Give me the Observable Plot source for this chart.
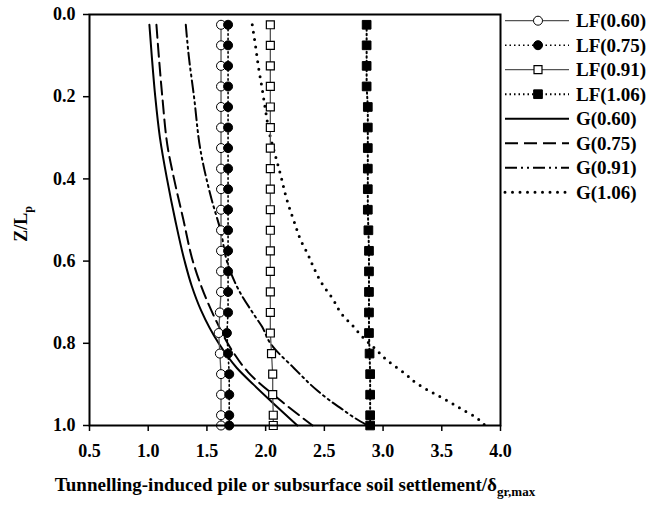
<!DOCTYPE html>
<html>
<head>
<meta charset="utf-8">
<script src="https://cdn.jsdelivr.net/npm/d3@7"></script>
<script src="https://cdn.jsdelivr.net/npm/@observablehq/plot@0.6"></script>
<style>
  body { margin: 0; background: #fff; }
  svg { font-family: "Liberation Serif", "Times New Roman", serif; }
</style>
</head>
<body>
<div id="chart"></div>
<script>
// ---------- data ----------
const xTicks = [0.5, 1.0, 1.5, 2.0, 2.5, 3.0, 3.5, 4.0];
const yTicks = [0.0, 0.2, 0.4, 0.6, 0.8, 1.0];

// LF series (marker depths)
const zLF = [0.025,0.075,0.125,0.175,0.225,0.275,0.325,0.375,0.425,0.475,0.525,0.575,0.625,0.675,0.725,0.775,0.825,0.875,0.925,0.975,1.0];
const lf060 = [1.62,1.62,1.62,1.62,1.62,1.62,1.62,1.62,1.62,1.62,1.62,1.62,1.62,1.62,1.61,1.60,1.61,1.62,1.62,1.62,1.62];
const lf075 = [1.68,1.68,1.68,1.68,1.68,1.68,1.68,1.68,1.68,1.68,1.68,1.68,1.68,1.68,1.68,1.67,1.68,1.69,1.69,1.69,1.69];
const lf091 = [2.04,2.04,2.04,2.04,2.04,2.04,2.04,2.04,2.04,2.04,2.04,2.04,2.04,2.04,2.04,2.04,2.05,2.06,2.06,2.065,2.065];
const lf106 = [2.86,2.86,2.86,2.86,2.87,2.87,2.87,2.87,2.87,2.87,2.875,2.88,2.88,2.88,2.88,2.88,2.885,2.89,2.89,2.89,2.89];

// G curves
const zG060 = [0.025,0.1,0.2,0.3,0.4,0.5,0.6,0.66,0.72,0.8,0.86,0.9,0.95,1.0];
const xG060 = [1.01,1.03,1.06,1.10,1.16,1.23,1.31,1.37,1.45,1.60,1.755,1.895,2.08,2.27];
const zG075 = [0.025,0.1,0.2,0.33,0.4,0.5,0.6,0.66,0.74,0.82,0.87,0.94,1.0];
const xG075 = [1.07,1.09,1.12,1.17,1.22,1.30,1.38,1.45,1.57,1.72,1.85,2.13,2.40];
const zG091 = [0.025,0.1,0.2,0.33,0.45,0.53,0.6,0.67,0.73,0.76,0.8,0.86,0.915,0.94,0.96,0.98,1.0];
const xG091 = [1.32,1.345,1.39,1.445,1.54,1.62,1.67,1.77,1.90,1.97,2.04,2.24,2.44,2.55,2.65,2.75,2.87];
const zG106 = [0.025,0.077,0.13,0.18,0.235,0.29,0.33,0.39,0.45,0.51,0.55,0.58,0.62,0.655,0.69,0.73,0.76,0.78,0.81,0.845,0.87,0.90,0.92,0.94,0.96,0.98,1.0];
const xG106 = [1.886,1.914,1.94,1.97,2.0,2.033,2.07,2.127,2.18,2.25,2.30,2.354,2.416,2.48,2.567,2.652,2.75,2.81,2.92,3.05,3.17,3.30,3.42,3.55,3.67,3.79,3.87];

const legendLabels = ["LF(0.60)","LF(0.75)","LF(0.91)","LF(1.06)","G(0.60)","G(0.75)","G(0.91)","G(1.06)"];
const xTitle = "Tunnelling-induced pile or subsurface soil settlement/δ";
const xTitleSub = "gr,max";
const yTitle = "Z/L";
const yTitleSub = "p";

// ---------- build tables ----------
const toRows = (xs, zs) => xs.map((x, i) => ({x, z: zs[i]}));
const LF060 = toRows(lf060, zLF), LF075 = toRows(lf075, zLF), LF091 = toRows(lf091, zLF), LF106 = toRows(lf106, zLF);
const G060 = toRows(xG060, zG060), G075 = toRows(xG075, zG075), G091 = toRows(xG091, zG091), G106 = toRows(xG106, zG106);

// styles
const S = {
  lf060: {stroke: "#555", strokeWidth: 1.3},
  lf075: {stroke: "#000", strokeWidth: 1.6, strokeDasharray: "1.5,3"},
  lf091: {stroke: "#555", strokeWidth: 1.3},
  lf106: {stroke: "#000", strokeWidth: 2, strokeDasharray: "1.5,3"},
  g060: {stroke: "#000", strokeWidth: 2},
  g075: {stroke: "#000", strokeWidth: 2, strokeDasharray: "13,6"},
  g091: {stroke: "#000", strokeWidth: 2, strokeDasharray: "12,4,2,4,2,4"},
  g106: {stroke: "#000", strokeWidth: 3, strokeDasharray: "0,7.5", strokeLinecap: "round"}
};
const M = {
  lf060: {symbol: "circle", r: 4.5, fill: "#fff", stroke: "#000", strokeWidth: 1},
  lf075: {symbol: "circle", r: 4.5, fill: "#000", stroke: "#000", strokeWidth: 1},
  lf091: {symbol: "square", r: 4.5, fill: "#fff", stroke: "#000", strokeWidth: 1.2},
  lf106: {symbol: "square", r: 4.9, fill: "#000", stroke: "#000", strokeWidth: 1}
};

const plot = Plot.plot({
  width: 655,
  height: 506,
  marginLeft: 89,
  marginRight: 155,
  marginTop: 14,
  marginBottom: 81,
  style: {fontFamily: "Liberation Serif", fontSize: "18px", fontWeight: "bold", background: "#fff", color: "#000"},
  x: {domain: [0.5, 4.0]},
  y: {domain: [0, 1], reverse: true},
  marks: [
    Plot.line(G060, {x: "x", y: "z", curve: "monotone-y", ...S.g060}),
    Plot.line(G075, {x: "x", y: "z", curve: "monotone-y", ...S.g075}),
    Plot.line(G091, {x: "x", y: "z", curve: "monotone-y", ...S.g091}),
    Plot.line(G106, {x: "x", y: "z", curve: "monotone-y", ...S.g106}),
    Plot.line(LF060, {x: "x", y: "z", ...S.lf060}),
    Plot.line(LF075, {x: "x", y: "z", ...S.lf075}),
    Plot.line(LF091, {x: "x", y: "z", ...S.lf091}),
    Plot.line(LF106, {x: "x", y: "z", ...S.lf106}),
    Plot.dot(LF060, {x: "x", y: "z", ...M.lf060}),
    Plot.dot(LF075, {x: "x", y: "z", ...M.lf075}),
    Plot.dot(LF091, {x: "x", y: "z", ...M.lf091}),
    Plot.dot(LF106, {x: "x", y: "z", ...M.lf106}),
    Plot.axisX({ticks: xTicks, tickFormat: d3.format(".1f"), tickSize: 6, tickPadding: 13, strokeWidth: 1.5, fontSize: 18, fontWeight: "bold", label: null}),
    Plot.axisY({ticks: yTicks, tickFormat: d3.format(".1f"), tickSize: 6, tickPadding: 8, strokeWidth: 1.5, fontSize: 18, fontWeight: "bold", label: null}),
    Plot.frame({stroke: "#000", strokeWidth: 2})
  ]
});

document.getElementById("chart").append(plot);

// ---------- titles and legend (layout) ----------
const svg = d3.select(plot);
const font = "Liberation Serif, Times New Roman, serif";

const xt = svg.append("text")
  .attr("x", 295).attr("y", 491)
  .attr("text-anchor", "middle")
  .attr("font-family", font).attr("font-weight", "bold").attr("font-size", 19)
  .attr("fill", "#000");
xt.append("tspan").text(xTitle);
xt.append("tspan").attr("dy", 5).attr("font-size", 13).text(xTitleSub);

const yt = svg.append("text")
  .attr("transform", "translate(27,224) rotate(-90)")
  .attr("text-anchor", "middle")
  .attr("font-family", font).attr("font-weight", "bold").attr("font-size", 18)
  .attr("fill", "#000");
yt.append("tspan").text(yTitle);
yt.append("tspan").attr("dy", 5).attr("font-size", 12).text(yTitleSub);

const legendStyles = [S.lf060, S.lf075, S.lf091, S.lf106, S.g060, S.g075, S.g091, S.g106];
const legendMarks = [M.lf060, M.lf075, M.lf091, M.lf106, null, null, null, null];
const lg = svg.append("g").attr("text-anchor", "start");
legendLabels.forEach((lab, i) => {
  const y = 20.7 + i * 24.5;
  const st = legendStyles[i];
  const ln = lg.append("line")
    .attr("x1", 505).attr("x2", 569).attr("y1", y).attr("y2", y)
    .attr("stroke", st.stroke).attr("stroke-width", st.strokeWidth);
  if (st.strokeDasharray) ln.attr("stroke-dasharray", st.strokeDasharray);
  if (st.strokeLinecap) ln.attr("stroke-linecap", st.strokeLinecap);
  const m = legendMarks[i];
  if (m) {
    const sym = m.symbol === "circle" ? d3.symbolCircle : d3.symbolSquare;
    lg.append("path")
      .attr("transform", `translate(538,${y})`)
      .attr("d", d3.symbol(sym, Math.PI * m.r * m.r)())
      .attr("fill", m.fill).attr("stroke", m.stroke).attr("stroke-width", m.strokeWidth);
  }
  lg.append("text")
    .attr("x", 576).attr("y", y).attr("dy", "0.35em")
    .attr("text-anchor", "start")
    .attr("font-family", font).attr("font-weight", "bold").attr("font-size", 19)
    .attr("fill", "#000").text(lab);
});
</script>
</body>
</html>
